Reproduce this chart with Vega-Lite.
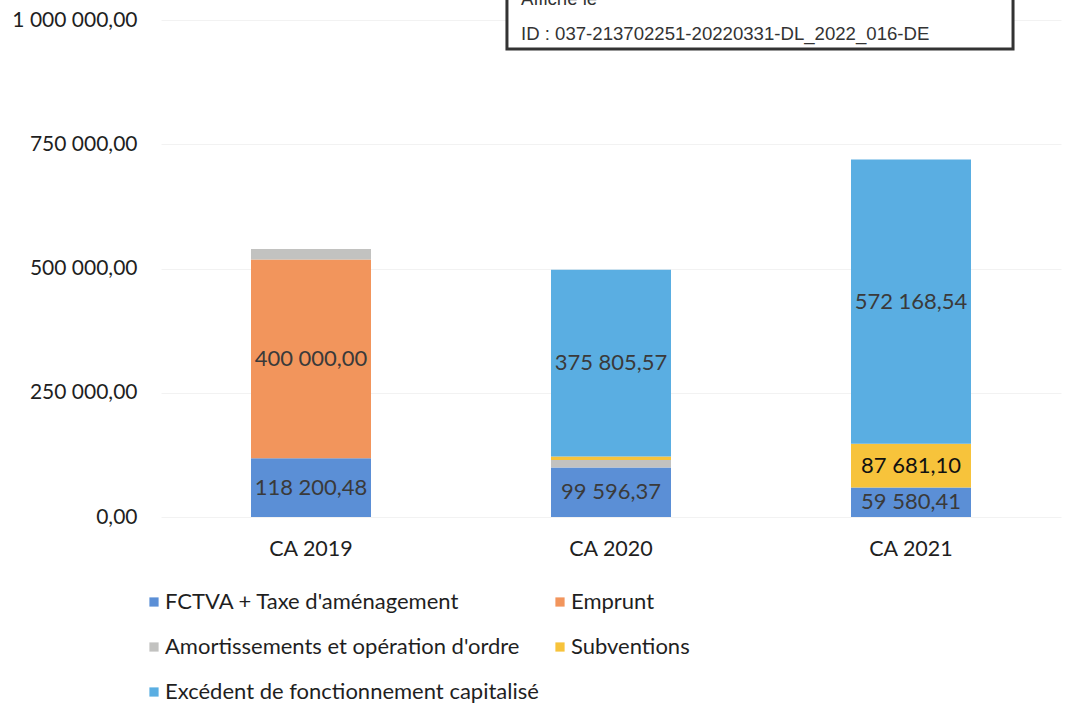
{
  "$schema": "https://vega.github.io/schema/vega-lite/v6.json",
  "width": 900,
  "height": 497,
  "autosize": {"type": "none"},
  "padding": {"left": 161, "top": 20, "right": 31, "bottom": 208},
  "background": "white",
  "config": {
    "view": {"stroke": null},
    "font": "Lato",
    "locale": {"number": {"decimal": ",", "thousands": " ", "grouping": [3], "currency": ["", " €"]}}
  },
  "datasets": {
    "bars": [
      {"annee": "CA 2019", "cat": "FCTVA + Taxe d'aménagement", "v": 118200.48, "o": 1},
      {"annee": "CA 2019", "cat": "Emprunt", "v": 400000.00, "o": 2},
      {"annee": "CA 2019", "cat": "Amortissements et opération d'ordre", "v": 21000, "o": 3},
      {"annee": "CA 2020", "cat": "FCTVA + Taxe d'aménagement", "v": 99596.37, "o": 1},
      {"annee": "CA 2020", "cat": "Amortissements et opération d'ordre", "v": 15000, "o": 3},
      {"annee": "CA 2020", "cat": "Subventions", "v": 7000, "o": 4},
      {"annee": "CA 2020", "cat": "Excédent de fonctionnement capitalisé", "v": 375805.57, "o": 5},
      {"annee": "CA 2021", "cat": "FCTVA + Taxe d'aménagement", "v": 59580.41, "o": 1},
      {"annee": "CA 2021", "cat": "Subventions", "v": 87681.10, "o": 4},
      {"annee": "CA 2021", "cat": "Excédent de fonctionnement capitalisé", "v": 572168.54, "o": 5}
    ],
    "stampbox": [
      {"x": 0.3844, "x2": 0.9467, "y": 0.9417, "y2": 1.09}
    ],
    "stamptext": [
      {"t": "Affiché le", "x": 0.4, "y": 1.0302},
      {"t": "ID : 037-213702251-20220331-DL_2022_016-DE", "x": 0.4, "y": 0.9598}
    ]
  },
  "layer": [
    {
      "layer": [
        {
          "data": {"name": "bars"},
          "mark": {"type": "bar"},
          "encoding": {
            "x": {
              "field": "annee", "type": "nominal", "sort": null,
              "scale": {"paddingInner": 0.6, "paddingOuter": 0.3},
              "axis": {"title": null, "labelAngle": 0, "labelFontSize": 21.5, "labelFont": "Lato", "labelColor": "#1f1f1f", "labelPadding": 21, "ticks": false, "domain": false, "grid": false}
            },
            "y": {
              "field": "v", "type": "quantitative", "stack": "zero",
              "scale": {"domain": [0, 1000000], "nice": false},
              "axis": {"title": null, "values": [0, 250000, 500000, 750000, 1000000], "format": ",.2f", "labelFontSize": 21, "labelFont": "Lato", "labelColor": "#1f1f1f", "labelPadding": 24, "ticks": false, "domain": false, "gridColor": "#f2f2f2"}
            },
            "color": {
              "field": "cat", "type": "nominal",
              "scale": {
                "domain": ["FCTVA + Taxe d'aménagement", "Emprunt", "Amortissements et opération d'ordre", "Subventions", "Excédent de fonctionnement capitalisé"],
                "range": ["#5b8fd6", "#f2955c", "#c2c2c0", "#f7c33b", "#5aaee2"]
              },
              "legend": {
                "orient": "none", "legendX": -18, "legendY": 571, "columns": 2, "direction": "horizontal", "title": null,
                "symbolType": "square", "symbolSize": 85, "symbolStrokeWidth": 0,
                "labelFontSize": 22, "labelFont": "Lato", "labelColor": "#1f1f1f",
                "rowPadding": 23, "columnPadding": 10, "labelOffset": 0, "labelLimit": 600
              }
            },
            "order": {"field": "o", "type": "quantitative"}
          }
        },
        {
          "data": {"name": "bars"},
          "transform": [
            {"stack": "v", "groupby": ["annee"], "sort": [{"field": "o", "order": "ascending"}], "as": ["v0", "v1"]},
            {"calculate": "(datum.v0 + datum.v1) / 2", "as": "mid"},
            {"filter": "datum.v > 50000"}
          ],
          "mark": {"type": "text", "fontSize": 22, "font": "Lato", "baseline": "middle"},
          "encoding": {
            "x": {"field": "annee", "type": "nominal", "sort": null},
            "y": {"field": "mid", "type": "quantitative", "stack": null, "scale": {"domain": [0, 1000000], "nice": false}},
            "text": {"field": "v", "type": "quantitative", "format": ",.2f"},
            "color": {"condition": {"test": "datum.cat === 'Subventions'", "value": "#111111"}, "value": "#3a3a3a"}
          }
        }
      ]
    },
    {
      "layer": [
        {
          "data": {"name": "stampbox"},
          "mark": {"type": "rect", "fill": "white", "stroke": "#333333", "strokeWidth": 3, "clip": false},
          "encoding": {
            "x": {"field": "x", "type": "quantitative", "scale": {"domain": [0, 1]}, "axis": null},
            "x2": {"field": "x2"},
            "y": {"field": "y", "type": "quantitative", "scale": {"domain": [0, 1]}, "axis": null},
            "y2": {"field": "y2"}
          }
        },
        {
          "data": {"name": "stamptext"},
          "mark": {"type": "text", "font": "Liberation Sans", "fontSize": 18.6, "align": "left", "baseline": "alphabetic", "color": "#333333"},
          "encoding": {
            "x": {"field": "x", "type": "quantitative", "scale": {"domain": [0, 1]}, "axis": null},
            "y": {"field": "y", "type": "quantitative", "scale": {"domain": [0, 1]}, "axis": null},
            "text": {"field": "t"}
          }
        }
      ]
    }
  ],
  "resolve": {"scale": {"x": "independent", "y": "independent", "color": "independent"}}
}
